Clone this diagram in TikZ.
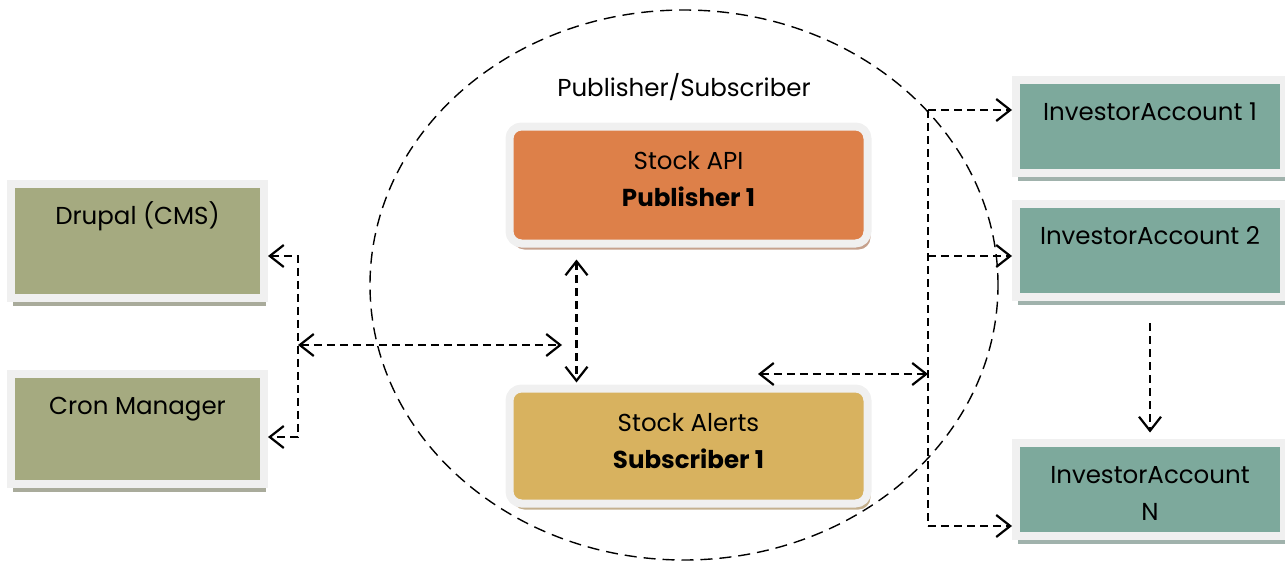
\documentclass[tikz,border=0pt]{standalone}
\usepackage{fontspec}
\setmainfont{Poppins}
\usepackage{xcolor}
\usepackage{tikz}
\usetikzlibrary{arrows.meta}
\usetikzlibrary{shadows}
\usetikzlibrary{calc}

\definecolor{olivebox}{HTML}{A5AA80}
\definecolor{oliveshade}{HTML}{A9AB9B}
\definecolor{pubbox}{HTML}{DD8049}
\definecolor{pubshade}{HTML}{C6A18D}
\definecolor{subbox}{HTML}{D8B25F}
\definecolor{subshade}{HTML}{C4B08E}
\definecolor{accbox}{HTML}{7DA99C}
\definecolor{accshade}{HTML}{A0B2AC}
\definecolor{rim}{HTML}{F0F0F0}

\tikzstyle{box} = [draw=rim, line width=8pt, align=center, inner sep=0pt, text height=40.5pt, font=\fontsize{24.5}{37}\selectfont]
\tikzstyle{srcbox} = [box, fill=olivebox, minimum width=253pt, drop shadow={shadow xshift=2pt, shadow yshift=-8pt, fill=oliveshade, opacity=1}]
\tikzstyle{stockbox} = [box, rounded corners=12pt, minimum width=358pt]
\tikzstyle{accbox} = [box, fill=accbox, minimum width=268pt, text depth=52.5pt, drop shadow={shadow xshift=2pt, shadow yshift=-8pt, fill=accshade, opacity=1}]
\tikzstyle{link} = [line width=2.2pt, dash pattern=on 8pt off 5pt, >={Straight Barb[length=14pt,width=22pt]}]
\tikzstyle{ring} = [line width=1.4pt, dash pattern=on 12pt off 7pt]

\begin{document}
\begin{tikzpicture}[x=1pt,y=-1pt]
			\useasboundingbox (0,0) rectangle (1285,565);
			\draw [ring] (684,285) ellipse [x radius=314pt, y radius=275pt];
			\node [font=\fontsize{24.5}{37}\selectfont] (pubsub) at (684,87) {Publisher/Subscriber};
			
			\node [srcbox, text depth=73.5pt] (drupal) at (137.5,241) {Drupal (CMS)};
			\node [srcbox, text depth=69.5pt] (cron) at (137.5,429) {Cron Manager};
			\node [stockbox, fill=pubbox, text height=80pt, text depth=37pt, drop shadow={shadow xshift=3pt, shadow yshift=-6pt, fill=pubshade, opacity=1}] (api) at (688.5,185) {Stock API\\\textbf{Publisher 1}};
			\node [stockbox, fill=subbox, text height=79.5pt, text depth=35.5pt, drop shadow={shadow xshift=3pt, shadow yshift=-6pt, fill=subshade, opacity=1}] (alerts) at (688.5,446) {Stock Alerts\\\textbf{Subscriber 1}};
			\node [accbox] (acc1) at (1150,126.5) {InvestorAccount 1};
			\node [accbox] (acc2) at (1150,250.5) {InvestorAccount 2};
			\node [accbox, text height=77.5pt, text depth=15.5pt] (accN) at (1150,489) {InvestorAccount\\N};
			
			\coordinate (lbtop) at (298,256);
			\coordinate (lbbot) at (298,437);
			\coordinate (lbmid) at (298,345);
			\coordinate (hubin) at (562,345);
			\coordinate (alertout) at (758,374);
			\coordinate (rbtop) at (928,110);
			\coordinate (rbtwo) at (928,256);
			\coordinate (rbmid) at (928,374);
			\coordinate (rbbot) at (928,526);
			
			\draw [link, <->] (lbtop -| drupal.east) -- (lbtop) -- (lbbot) -- (lbbot -| cron.east);
			\draw [link, <->] (lbmid) -- (hubin);
			\draw [link, <->] ([xshift=-112pt, yshift=-12pt]api.south) -- ([xshift=-112pt, yshift=2pt]alerts.north);
			\draw [link, <->] (alertout) -- (rbmid);
			\draw [link] (rbtop) -- (rbbot);
			\draw [link, ->] (rbtop) -- (rbtop -| acc1.west);
			\draw [link, ->] (rbtwo) -- (rbtwo -| acc2.west);
			\draw [link, ->] (rbbot) -- (rbbot -| accN.west);
			\draw [link, ->] ([yshift=-22pt]acc2.south) -- ([yshift=6pt]accN.north);
			
		\end{tikzpicture}
\end{document}
